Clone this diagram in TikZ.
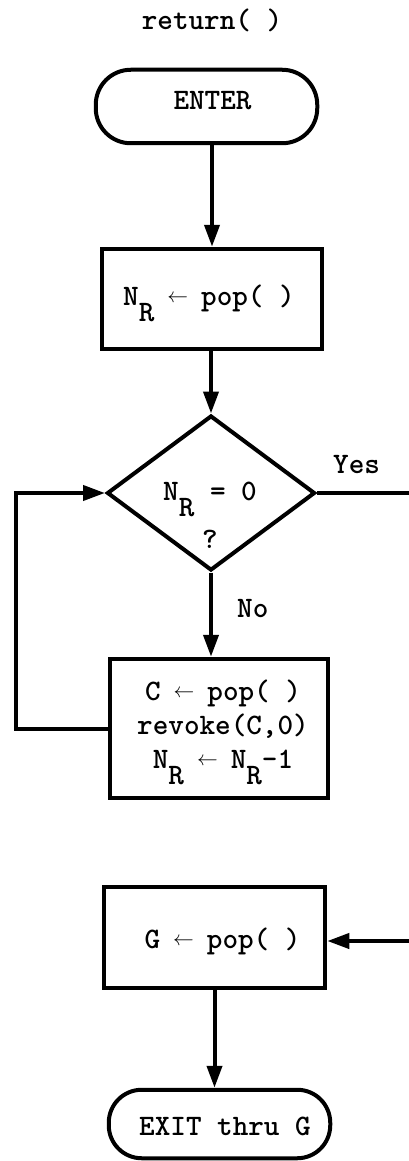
\documentclass[tikz,border=0pt]{standalone}
\usepackage{fontspec}
\usetikzlibrary{arrows.meta,shapes.geometric}
\newcommand\subR{\raisebox{-16pt}[0pt][0pt]{R}}
\newcommand\la{\makebox[0.525em]{\raisebox{3pt}{\fontsize{20}{20}\selectfont$\leftarrow$}}}
\newcommand\tx[3]{\raisebox{-#2}[0pt][0pt]{\hspace*{#1}#3\hspace*{-#1}}}
\begin{document}
\begin{tikzpicture}[x=1pt,y=-1pt,
  every node/.style={font=\ttfamily\bfseries\fontsize{29.7}{34}\selectfont, inner sep=0pt},
  term/.style={draw, line width=4pt, rounded corners=35pt},
  proc/.style={draw, line width=4pt},
  decision/.style={draw, diamond, line width=4pt, aspect=1.33},
  arr/.style={line width=4pt, -{Triangle[length=22pt,width=15pt]}},
  ln/.style={line width=4pt},
  lbl/.style={anchor=base west}]
\useasboundingbox (0,0) rectangle (409,1161);
\node (title) [anchor=base] at (212,30) {return( )};
\node (enter) [term, minimum width=221.5pt, minimum height=73.5pt] at (206.5,106.5) {\tx{6pt}{3.5pt}{ENTER}};
\node (b1) [proc, minimum width=220.5pt, minimum height=100.5pt] at (212,299) {\tx{-3pt}{6pt}{N\subR{} \la{} pop( )}};
\node (d) [decision, minimum width=208pt, minimum height=155pt] at (211,493) {\tx{-1pt}{55pt}{\begin{tabular}[b]{@{}c@{}}N\subR{} = 0\\[14pt]?\end{tabular}}};
\node (b2) [proc, minimum width=218.5pt, minimum height=139.5pt] at (219,728.5) {\tx{4pt}{39.5pt}{\begin{tabular}[b]{@{}c@{}}C \la{} pop( )\\revoke(C,0)\\N\subR{} \la{} N\subR{}-1\end{tabular}}};
\node (g) [proc, minimum width=221.5pt, minimum height=101.5pt] at (214.5,937.5) {\tx{8pt}{10.5pt}{G \la{} pop( )}};
\node (exit) [term, minimum width=221.5pt, minimum height=68.5pt, rounded corners=33pt] at (219.5,1124) {\tx{5.5pt}{11pt}{EXIT thru G}};
\node (yes) [lbl] at (333,473) {Yes};
\node (no) [lbl] at (237,617) {No};
\coordinate (rt) at (409,495);
\coordinate (rin) at (409,941);
\coordinate (lp) at (16,493);
\draw[arr] (enter.south -| b1.north) -- (b1.north);
\draw[arr] (d.north |- b1.south) -- (d.north);
\draw[ln] (d.east) -- (d.east -| rt);
\draw[arr] (d.south) -- (d.south |- b2.north);
\draw[arr] (b2.west) -| (lp) -- (d.west);
\draw[arr] (rin) -- (rin -| g.east);
\draw[arr] (g.south) -- (g.south |- exit.north);
\end{tikzpicture}
\end{document}
